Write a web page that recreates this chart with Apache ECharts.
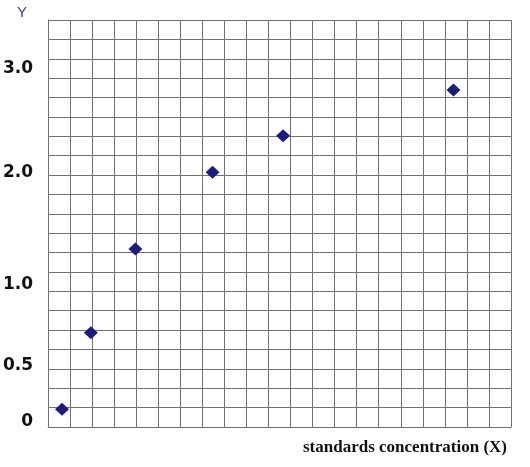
<!DOCTYPE html>
<html>
<head>
<meta charset="utf-8">
<script src="https://cdn.jsdelivr.net/npm/echarts@6/dist/echarts.min.js"></script>
<style>
	html, body { margin: 0; padding: 0; background: #fff; }
	#chart { width: 530px; height: 467px; }
</style>
</head>
<body>
<div id="chart"></div>
<script>
	// grid units: 21 columns x 21 rows
	var xCols = 21;
	var yRows = 21;
	// points (x in columns, y in rows)
	var pointX = [0.63, 1.94, 3.96, 7.46, 10.66, 18.39];
	var pointY = [0.91, 4.86, 9.19, 13.14, 15.03, 17.39];
	// y tick labels and where they sit (in rows)
	var yTickLabels = ['0', '0.5', '1.0', '2.0', '3.0'];
	var yTickPos = [0.28, 3.17, 7.35, 13.14, 18.51];

	var points = [];
	for (var i = 0; i < pointX.length; i++) {
		points.push([pointX[i], pointY[i]]);
	}

	var gridColor = '#707070';
	var myChart = echarts.init(document.getElementById('chart'));
	myChart.setOption({
		animation: false,
		backgroundColor: '#fff',
		grid: {
			left: 48,
			top: 20,
			width: 463,
			height: 407
		},
		xAxis: {
			type: 'value',
			min: 0,
			max: xCols,
			interval: 1,
			name: 'standards concentration (X)',
			nameLocation: 'end',
			nameGap: -4,
			nameTextStyle: {
				fontFamily: 'Liberation Serif',
				fontWeight: 'bold',
				fontSize: 17,
				color: '#111',
				align: 'right',
				verticalAlign: 'top',
				padding: [12, 0, 0, 0]
			},
			axisLine: { show: true, lineStyle: { color: gridColor, width: 1 } },
			axisTick: { show: false },
			axisLabel: { show: false },
			splitLine: { show: true, lineStyle: { color: gridColor, width: 1 } }
		},
		yAxis: {
			type: 'value',
			min: 0,
			max: yRows,
			interval: 1,
			name: 'Y',
			nameLocation: 'end',
			nameGap: 7,
			nameTextStyle: {
				fontFamily: 'Liberation Sans',
				fontSize: 15,
				color: '#3d3d8f',
				align: 'right',
				verticalAlign: 'middle',
				padding: [0, 21, 0, 0]
			},
			axisLine: { show: true, lineStyle: { color: gridColor, width: 1 } },
			axisTick: { show: false },
			axisLabel: {
				show: true,
				customValues: yTickPos,
				margin: 15,
				fontFamily: 'DejaVu Sans',
				fontWeight: 'bold',
				fontSize: 17,
				color: '#111',
				formatter: function (v) {
					for (var k = 0; k < yTickPos.length; k++) {
						if (Math.abs(yTickPos[k] - v) < 1e-6) return yTickLabels[k];
					}
					return '';
				}
			},
			splitLine: { show: true, lineStyle: { color: gridColor, width: 1 } }
		},
		series: [{
			type: 'scatter',
			data: points,
			symbol: 'diamond',
			symbolSize: [14, 13],
			itemStyle: { color: '#1c1c85', opacity: 1 }
		}]
	});
</script>
</body>
</html>
